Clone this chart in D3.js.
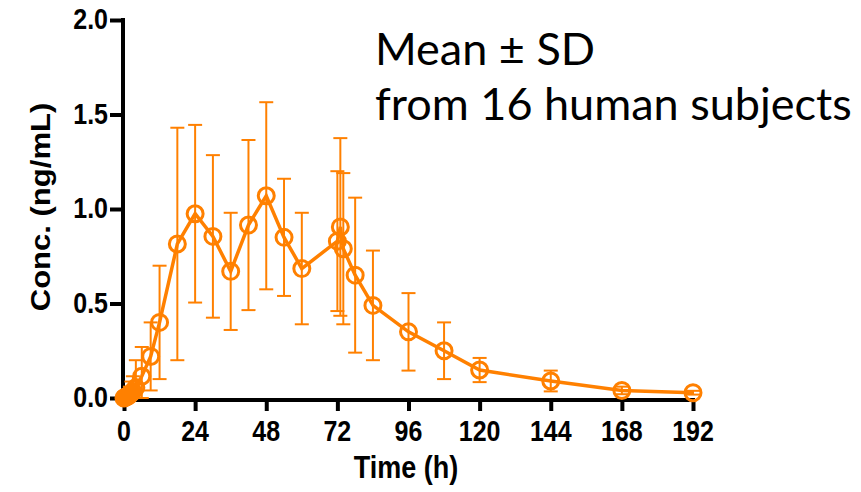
<!DOCTYPE html>
<html>
<head>
<meta charset="utf-8">
<script src="https://cdn.jsdelivr.net/npm/d3@7"></script>
<style>
  body { margin: 0; background: #fff; }
  text { font-family: "Liberation Sans", Arial, sans-serif; }
</style>
</head>
<body>
<div id="chart"></div>
<script>
// data
var times = [0, 0.25, 0.5, 0.75, 1, 1.5, 2, 2.5, 3, 4, 6, 9, 12, 18, 24, 30, 36, 42, 48, 54, 60, 72, 73, 74, 78, 84, 96, 108, 120, 144, 168, 192];
var means = [0, 0.002, 0.004, 0.006, 0.008, 0.012, 0.02, 0.027, 0.035, 0.055, 0.115, 0.22, 0.40, 0.815, 0.975, 0.855, 0.67, 0.915, 1.07, 0.85, 0.685, 0.83, 0.905, 0.79, 0.65, 0.49, 0.35, 0.25, 0.148, 0.09, 0.04, 0.028];
var sds = [0, 0.005, 0.01, 0.015, 0.02, 0.03, 0.04, 0.06, 0.08, 0.145, 0.155, 0.18, 0.30, 0.615, 0.47, 0.43, 0.31, 0.45, 0.495, 0.31, 0.295, 0.37, 0.47, 0.40, 0.41, 0.29, 0.205, 0.15, 0.064, 0.055, 0.02, 0.01];
var xTicks = [0, 24, 48, 72, 96, 120, 144, 168, 192];
var yTicks = [0, 0.5, 1.0, 1.5, 2.0];
var noteLines = ["Mean \u00b1 SD", "from 16 human subjects"];

var width = 861, height = 492;
var orange = "#ff8000";
var stretch = 1.15; // original export is a bit taller than wide

var data = times.map(function(t, i) { return {t: t, m: means[i], sd: sds[i]}; });

var svg = d3.select("#chart").append("svg")
    .attr("width", width)
    .attr("height", height);

var x = d3.scaleLinear().domain([0, 192]).range([124, 693]);
var y = d3.scaleLinear().domain([0, 2]).range([398, 20]);

//axes first: the points sit on top of them
var yAxis = svg.append("g")
    .attr("transform", "translate(123,0)")
    .call(d3.axisLeft(y).tickValues(yTicks).tickFormat("").tickSize(13));

var xAxis = svg.append("g")
    .attr("transform", "translate(0,400)")
    .call(d3.axisBottom(x).tickValues(xTicks).tickFormat("").tickSize(11));

[yAxis, xAxis].forEach(function(a) {
  a.select(".domain").remove();
  a.selectAll(".tick line").attr("stroke", "#000").attr("stroke-width", 4);
});

svg.append("line").attr("x1", 123).attr("x2", 123).attr("y1", y(2) - 2).attr("y2", 402)
    .attr("stroke", "#000").attr("stroke-width", 4);
svg.append("line").attr("x1", 121).attr("x2", x(192) + 2).attr("y1", 400).attr("y2", 400)
    .attr("stroke", "#000").attr("stroke-width", 4);

//tick labels placed by hand so they can be stretched
var fmt = d3.format(".1f");
svg.append("g").selectAll("text")
    .data(yTicks)
  .enter().append("text")
    .attr("transform", function(d) { return "translate(108," + (y(d) + 9) + ") scale(1," + stretch + ")"; })
    .attr("text-anchor", "end")
    .style("font-size", "25px").style("font-weight", "bold")
    .text(function(d) { return fmt(d); });

svg.append("g").selectAll("text")
    .data(xTicks)
  .enter().append("text")
    .attr("transform", function(d) { return "translate(" + x(d) + ",441) scale(1," + stretch + ")"; })
    .attr("text-anchor", "middle")
    .style("font-size", "25px").style("font-weight", "bold")
    .text(function(d) { return d; });

//error bars
var bars = svg.append("g").attr("stroke", orange).attr("stroke-width", 2).attr("fill", "none");
data.forEach(function(d) {
  if (d.sd <= 0) return;
  var cx = x(d.t), y1 = y(d.m + d.sd), y2 = y(Math.max(0, d.m - d.sd));
  bars.append("line").attr("x1", cx).attr("x2", cx).attr("y1", y1).attr("y2", y2);
  bars.append("line").attr("x1", cx - 7).attr("x2", cx + 7).attr("y1", y1).attr("y2", y1);
  bars.append("line").attr("x1", cx - 7).attr("x2", cx + 7).attr("y1", y2).attr("y2", y2);
});

//mean line
var line = d3.line()
    .x(function(d) { return x(d.t); })
    .y(function(d) { return y(d.m); });

svg.append("path")
    .datum(data)
    .attr("d", line)
    .attr("fill", "none")
    .attr("stroke", orange)
    .attr("stroke-width", 3.5);

svg.append("g").selectAll("circle")
    .data(data)
  .enter().append("circle")
    .attr("cx", function(d) { return x(d.t); })
    .attr("cy", function(d) { return y(d.m); })
    .attr("r", 8)
    .attr("fill", "none")
    .attr("stroke", orange)
    .attr("stroke-width", 3);

//titles
svg.append("text")
    .attr("transform", "translate(406,478) scale(1," + stretch + ")")
    .attr("text-anchor", "middle")
    .style("font-size", "27px").style("font-weight", "bold")
    .text("Time (h)");

svg.append("text")
    .attr("transform", "translate(50,207) rotate(-90) scale(" + stretch + ",1)")
    .attr("text-anchor", "middle")
    .style("font-size", "27px").style("font-weight", "bold")
    .text("Conc. (ng/mL)");

//note
svg.selectAll(".note")
    .data(noteLines)
  .enter().append("text")
    .attr("class", "note")
    .attr("x", 375)
    .attr("y", function(d, i) { return 65 + i * 55; })
    .style("font-family", "Lato, 'Open Sans', sans-serif")
    .style("font-size", "45px")
    .text(function(d) { return d; });
</script>
</body>
</html>
